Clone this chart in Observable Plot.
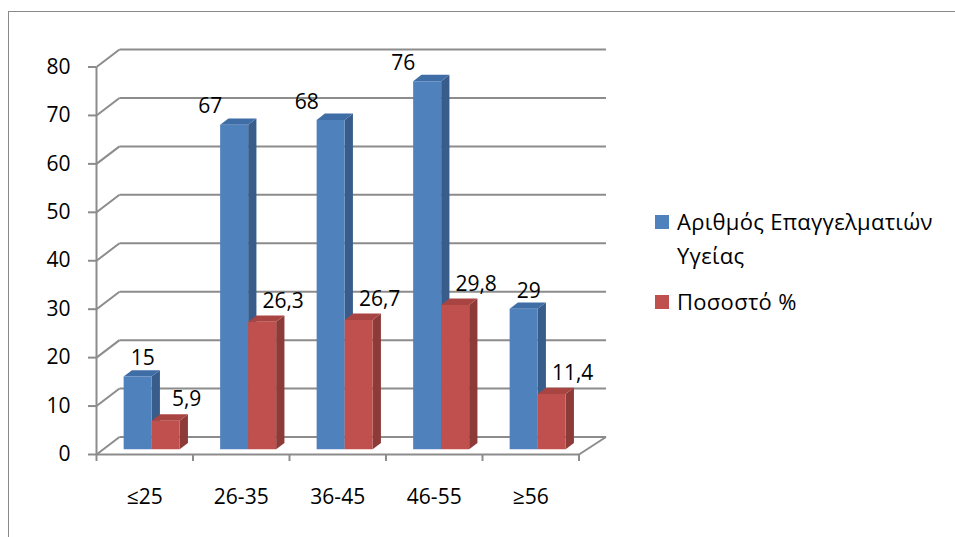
<!DOCTYPE html>
<html>
<head>
<meta charset="utf-8">
<script src="https://cdn.jsdelivr.net/npm/d3@7"></script>
<script src="https://cdn.jsdelivr.net/npm/@observablehq/plot@0.6"></script>
<style>
  html, body { margin: 0; padding: 0; background: #fff; }
  #wrap { position: relative; width: 955px; height: 537px; overflow: hidden; font-family: "Open Sans", sans-serif; }
  #frame { position: absolute; left: 8px; top: 11px; width: 1000px; height: 600px; border-top: 1.5px solid #8a8a8a; border-left: 1.5px solid #8a8a8a; }
  #chart { position: absolute; left: 0; top: 0; }
  #legend { position: absolute; left: 655px; top: 204px; font-size: 22px; color: #000; line-height: 34px; letter-spacing: 0.3px; }
  .item { position: relative; padding-left: 22px; }
  .sw { position: absolute; left: 0; width: 14px; height: 14px; }
</style>
</head>
<body>
<div id="wrap">
  <div id="frame"></div>
  <div id="chart"></div>
  <div id="legend"></div>
</div>
<script>
// ---- data ----
const categories = ["≤25", "26-35", "36-45", "46-55", "≥56"];
const seriesNames = ["Αριθμός Επαγγελματιών Υγείας", "Ποσοστό %"];
const countValues = [15, 67, 68, 76, 29];
const percentValues = [5.9, 26.3, 26.7, 29.8, 11.4];
const percentLabels = ["5,9", "26,3", "26,7", "29,8", "11,4"];
const yTicks = [0, 10, 20, 30, 40, 50, 60, 70, 80];

// ---- styling ----
const colors = [
  {front: "#4F81BD", side: "#385D8A", top: "#3F6DA5"},
  {front: "#C0504D", side: "#8C3B39", top: "#A84441"}
];
const W = 955, H = 537;
const mL = 96, mR = 376.5, mT = 66.5, mB = 83;
const pxX = (W - mL - mR) / categories.length;   // px per category unit
const pxY = (H - mT - mB) / 80;                  // px per value unit
const DX = 23 / pxX, DY = 17.5 / pxY;            // depth vector in data units
const d0 = 0.3, d1 = 0.66;                        // bar front/back depth
const bw = 28 / pxX;                              // bar width
const grid = "#8c8c8c";
const fs = 21;

const series = [countValues, percentValues];
const polys = [];
const labels = [];
categories.forEach((c, i) => {
  series.forEach((vals, s) => {
    const v = vals[i];
    const x0 = i + 0.5 - bw + s * bw + d0 * DX, x1 = x0 + bw;
    const b = d0 * DY, t = v + d0 * DY;
    const ddx = (d1 - d0) * DX, ddy = (d1 - d0) * DY;
    const id = `${i}-${s}`;
    const col = colors[s];
    const add = (name, fill, pts) => pts.forEach(([x, y]) => polys.push({id: id + name, x, y, fill}));
    add("side", col.side, [[x1, b], [x1 + ddx, b + ddy], [x1 + ddx, t + ddy], [x1, t]]);
    add("top", col.top, [[x0, t], [x1, t], [x1 + ddx, t + ddy], [x0 + ddx, t + ddy]]);
    add("front", col.front, [[x0, b], [x1, b], [x1, t], [x0, t]]);
    const nudge = s === 0 ? (v > 50 ? -24 : 5) : 21;
    labels.push({x: (x0 + x1) / 2 + nudge / pxX, y: t + (s === 0 ? 18 : 21) / pxY,
                 text: s === 0 ? String(v) : percentLabels[i]});
  });
});

const xEdges = d3.range(categories.length + 1);
const backRight = categories.length + DX + 4 / pxX;

const plot = Plot.plot({
  width: W, height: H,
  marginLeft: mL, marginRight: mR, marginTop: mT, marginBottom: mB,
  x: {domain: [0, categories.length], axis: null},
  y: {domain: [0, 80], axis: null},
  color: {type: "identity"},
  style: {fontFamily: "Open Sans, sans-serif", fontSize: fs + "px", background: "transparent", overflow: "visible"},
  marks: [
    // back wall gridlines
    Plot.link(yTicks, {x1: DX, x2: backRight, y1: d => d + DY, y2: d => d + DY, stroke: grid, strokeWidth: 2}),
    // side wall diagonals
    Plot.link(yTicks, {x1: 0, x2: DX, y1: d => d, y2: d => d + DY, stroke: grid, strokeWidth: 2}),
    // floor right edge
    Plot.link([0], {x1: categories.length, x2: backRight, y1: 0, y2: DY, stroke: grid, strokeWidth: 2}),
    // front axis lines
    Plot.link([0], {x1: 0, x2: categories.length, y1: 0, y2: 0, stroke: grid, strokeWidth: 2}),
    Plot.link([0], {x1: 0, x2: 0, y1: 0, y2: 80, stroke: grid, strokeWidth: 2}),
    // y axis
    Plot.axisY(yTicks, {label: null, tickSize: 8, tickPadding: 18, stroke: grid, strokeWidth: 2, fill: "#000", fontSize: fs, tickFormat: d => d}),
    // x axis
    Plot.axisX(xEdges, {label: null, tickSize: 7, stroke: grid, strokeWidth: 2, tickFormat: () => ""}),
    Plot.axisX(categories.map((c, i) => i + 0.5), {label: null, tickSize: 0, tickPadding: 35, fill: "#000", fontSize: fs, tickFormat: d => categories[Math.floor(d)]}),
    // bars
    Plot.line(polys, {x: "x", y: "y", z: "id", fill: "fill", stroke: "none", curve: "linear-closed"}),
    // value labels
    Plot.text(labels, {x: "x", y: "y", text: "text", fill: "#000", fontSize: fs})
  ]
});
document.getElementById("chart").appendChild(plot);

const legend = document.getElementById("legend");
const legendLines = [["Αριθμός Επαγγελματιών", "Υγείας"], ["Ποσοστό %"]];
legendLines.forEach((lines, s) => {
  const item = document.createElement("div");
  item.className = "item";
  item.style.marginBottom = s === 0 ? "12px" : "0";
  const sw = document.createElement("div");
  sw.className = "sw";
  sw.style.background = colors[s].front;
  sw.style.top = "11px";
  item.appendChild(sw);
  lines.forEach(l => { const d = document.createElement("div"); d.textContent = l; item.appendChild(d); });
  legend.appendChild(item);
});
</script>
</body>
</html>
